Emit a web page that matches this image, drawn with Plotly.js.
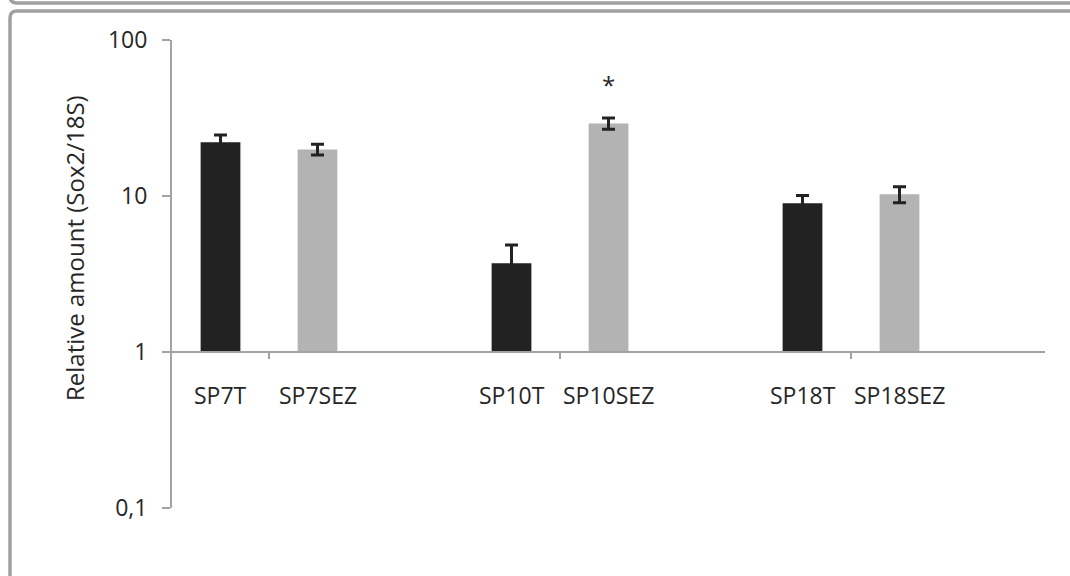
<!DOCTYPE html>
<html>
<head>
<meta charset="utf-8">
<script src="https://cdn.plot.ly/plotly-3.0.1.min.js"></script>
<style>
  html, body { margin: 0; padding: 0; background: #ffffff; }
  #chart { width: 1070px; height: 576px; }
</style>
</head>
<body>
<div id="chart"></div>
<script>
// ---- data ----
var samples = ['SP7', 'SP10', 'SP18'];
var tLabels = ['SP7T', 'SP10T', 'SP18T'];
var sezLabels = ['SP7SEZ', 'SP10SEZ', 'SP18SEZ'];
var tValues = [22.1, 3.70, 8.98];
var tErrors = [2.5, 1.15, 1.1];
var sezValues = [19.9, 29.2, 10.25];
var sezErrors = [1.6, 2.4, 1.2];
var yTickVals = [0.1, 1, 10, 100];
var yTickText = ['0,1', '1', '10', '100'];
var significance = ['', '*', ''];

// ---- layout helpers ----
var BASE = 1;
var slotsPerGroup = 3;
var tX = samples.map(function (s, i) { return i * slotsPerGroup; });
var sezX = samples.map(function (s, i) { return i * slotsPerGroup + 1; });
var groupTicks = samples.map(function (s, i) { return i * slotsPerGroup + 0.5; });

var fontFamily = '"Open Sans", "DejaVu Sans", sans-serif';
var textColor = '#262626';
var axisColor = '#a3a3a3';

var traceT = {
  type: 'bar',
  x: tX,
  y: tValues.map(function (v) { return v - BASE; }),
  base: BASE,
  width: 0.41,
  marker: { color: '#222222', line: { width: 0 } },
  error_y: { type: 'data', array: tErrors, visible: true, color: '#222222', thickness: 3, width: 6.5 },
  hoverinfo: 'skip',
  showlegend: false
};
var traceSEZ = {
  type: 'bar',
  x: sezX,
  y: sezValues.map(function (v) { return v - BASE; }),
  base: BASE,
  width: 0.41,
  marker: { color: '#b3b3b3', line: { width: 0 } },
  error_y: { type: 'data', array: sezErrors, visible: true, color: '#222222', thickness: 3, width: 6.5 },
  hoverinfo: 'skip',
  showlegend: false
};

var annotations = [];
// category labels below the axis line
tLabels.forEach(function (lab, i) {
  annotations.push({ x: tX[i], y: 0.2415, xref: 'x', yref: 'paper', text: lab, showarrow: false,
    xanchor: 'center', yanchor: 'middle', font: { family: fontFamily, size: 23, color: textColor } });
});
sezLabels.forEach(function (lab, i) {
  annotations.push({ x: sezX[i], y: 0.2415, xref: 'x', yref: 'paper', text: lab, showarrow: false,
    xanchor: 'center', yanchor: 'middle', font: { family: fontFamily, size: 23, color: textColor } });
});
// significance marks
significance.forEach(function (m, i) {
  if (!m) return;
  annotations.push({ x: sezX[i], y: 0.905, xref: 'x', yref: 'paper', text: m, showarrow: false,
    xanchor: 'center', yanchor: 'middle', font: { family: fontFamily, size: 24, color: textColor } });
});
// y axis title
annotations.push({ x: -0.1111, y: 0.5556, xref: 'paper', yref: 'paper', text: 'Relative amount (Sox2/18S)',
  showarrow: false, textangle: -90, xanchor: 'center', yanchor: 'middle',
  font: { family: fontFamily, size: 24, color: textColor } });

// frame (outer border of the figure panel)
function px2x(p) { return (p - 172) / 873; }
function px2y(p) { return (508 - p) / 468; }
var r = 7;
var framePath = 'M ' + px2x(10) + ',' + px2y(600) +
  ' L ' + px2x(10) + ',' + px2y(11 + r) +
  ' Q ' + px2x(10) + ',' + px2y(11) + ' ' + px2x(10 + r) + ',' + px2y(11) +
  ' L ' + px2x(1090) + ',' + px2y(11);
var topPath = 'M ' + px2x(10) + ',' + px2y(-10) +
  ' L ' + px2x(10) + ',' + px2y(3 - r) +
  ' Q ' + px2x(10) + ',' + px2y(3) + ' ' + px2x(10 + r) + ',' + px2y(3) +
  ' L ' + px2x(1090) + ',' + px2y(3);

var layout = {
  width: 1070,
  height: 576,
  margin: { l: 172, r: 25, t: 40, b: 68 },
  paper_bgcolor: '#ffffff',
  plot_bgcolor: '#ffffff',
  barmode: 'overlay',
  showlegend: false,
  hovermode: false,
  xaxis: {
    range: [-0.5, samples.length * slotsPerGroup - 0.5],
    anchor: 'free',
    position: px2y(352),
    showgrid: false,
    zeroline: false,
    showline: true,
    linecolor: axisColor,
    linewidth: 2,
    ticks: 'outside',
    tickmode: 'array',
    tickvals: groupTicks,
    ticklen: 6,
    tickwidth: 2,
    tickcolor: axisColor,
    showticklabels: false,
    fixedrange: true
  },
  yaxis: {
    type: 'log',
    range: [-1, 2],
    showgrid: false,
    zeroline: false,
    showline: true,
    linecolor: axisColor,
    linewidth: 2,
    ticks: 'outside',
    tickmode: 'array',
    tickvals: yTickVals,
    ticktext: yTickText,
    ticklen: 8,
    tickwidth: 2,
    tickcolor: axisColor,
    ticklabelstandoff: 10,
    tickfont: { family: fontFamily, size: 23, color: textColor },
    fixedrange: true
  },
  annotations: annotations,
  shapes: [
    { type: 'path', xref: 'paper', yref: 'paper', path: framePath, line: { color: '#a0a0a0', width: 3.5 } },
    { type: 'path', xref: 'paper', yref: 'paper', path: topPath, line: { color: '#a0a0a0', width: 3.5 } }
  ]
};

Plotly.newPlot('chart', [traceT, traceSEZ], layout, { displayModeBar: false, staticPlot: true });
</script>
</body>
</html>
